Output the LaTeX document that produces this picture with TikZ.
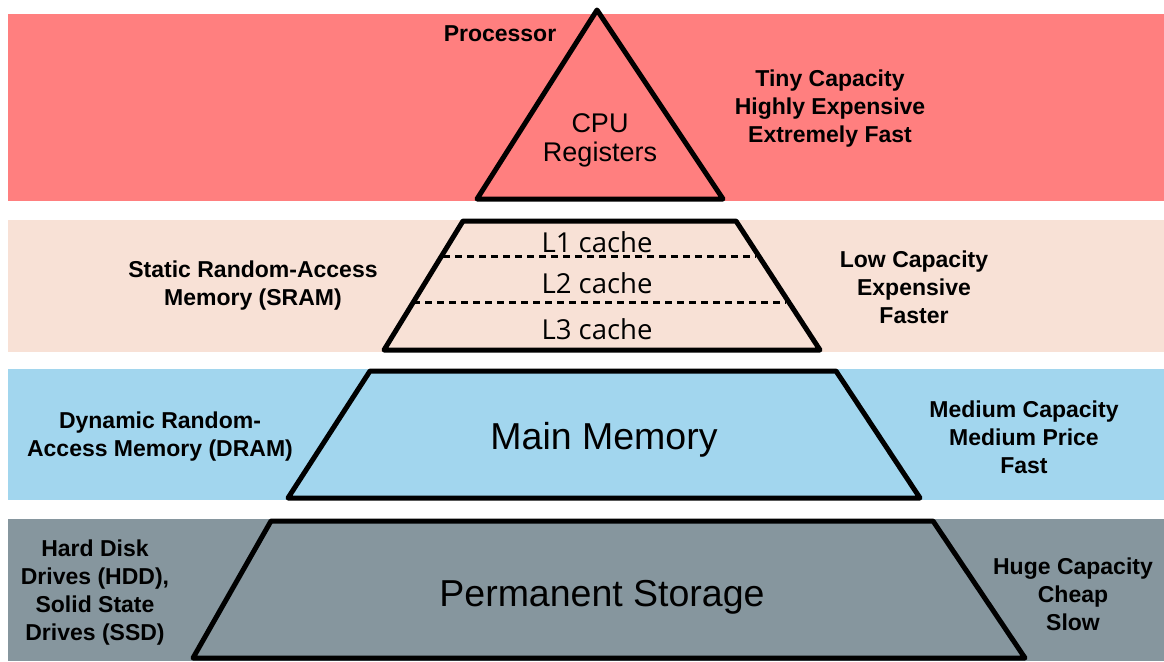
\documentclass[tikz,border=0pt]{standalone}
\usepackage{fontspec}
\setmainfont{Liberation Sans}
\newfontfamily\cachefont{Open Sans}
\usetikzlibrary{positioning}
\definecolor{regred}{HTML}{FF7F7F}
\definecolor{sramtan}{HTML}{F8E1D6}
\definecolor{dramblue}{HTML}{A2D6EE}
\definecolor{diskgray}{HTML}{86969E}
\tikzset{
  band/.style={draw=none, fill=#1},
  layer/.style={line width=5pt, line join=round, line cap=round},
  cachesep/.style={line width=3pt, dash pattern=on 7pt off 5pt},
  sidelbl/.style={align=center, inner sep=0pt,
    font=\bfseries\fontsize{23}{28}\selectfont},
  toplbl/.style={align=center, inner sep=0pt, font=#1}
}
\begin{document}
\begin{tikzpicture}[x=1pt, y=-1pt]
  \useasboundingbox[fill=white] (0,0) rectangle (1164,661);
  % background bands
  \fill[band=regred]   (8,14)  rectangle (1164,201);
  \fill[band=sramtan]  (8,220) rectangle (1164,352);
  \fill[band=dramblue] (8,369) rectangle (1164,500);
  \fill[band=diskgray] (8,519) rectangle (1164,661);

  % pyramid layers
  \coordinate (apex) at (597,10);
  \draw[layer] (apex) -- (723,199) -- (477,199) -- cycle;
  \draw[layer] (463,221) -- (736,221) -- (820,350) -- (384,350) -- cycle;
  \draw[cachesep] (443,256) -- (756,256);
  \draw[cachesep] (413,302) -- (786,302);
  \draw[layer] (370,371) -- (836,371) -- (920,498) -- (288,498) -- cycle;
  \draw[layer] (271,521) -- (933,521) -- (1025,658) -- (193,658) -- cycle;

  % texts inside the pyramid
  \node[toplbl=\fontsize{27}{29}\selectfont] (cpu) at (600,140) {CPU\\Registers};
  \node[toplbl=\cachefont\fontsize{27.5}{30}\selectfont] (l1) at (597,242) {L1 cache};
  \node[toplbl=\cachefont\fontsize{27.5}{30}\selectfont] (l2) at (597,283) {L2 cache};
  \node[toplbl=\cachefont\fontsize{27.5}{30}\selectfont] (l3) at (597,329) {L3 cache};
  \node[toplbl=\fontsize{37.5}{40}\selectfont] (mainmem) at (604,440) {Main Memory};
  \node[toplbl=\fontsize{37.5}{40}\selectfont] (perm) at (602,597) {Permanent Storage};

  % labels on the left
  \node[sidelbl] (proc) at (500,34) {Processor};
  \node[sidelbl] (sram) at (253,286) {Static Random-Access\\Memory (SRAM)};
  \node[sidelbl] (dram) at (160,437) {Dynamic Random-\\Access Memory (DRAM)};
  \node[sidelbl] (hdd) at (95,593) {Hard Disk\\Drives (HDD),\\Solid State\\Drives (SSD)};

  % labels on the right
  \node[sidelbl] (regprops) at (830,109) {Tiny Capacity\\Highly Expensive\\Extremely Fast};
  \node[sidelbl] (srprops) at (914,287) {Low Capacity\\Expensive\\Faster};
  \node[sidelbl] (drprops) at (1024,437) {Medium Capacity\\Medium Price\\Fast};
  \node[sidelbl] (hdprops) at (1073,594) {Huge Capacity\\Cheap\\Slow};
\end{tikzpicture}
\end{document}
